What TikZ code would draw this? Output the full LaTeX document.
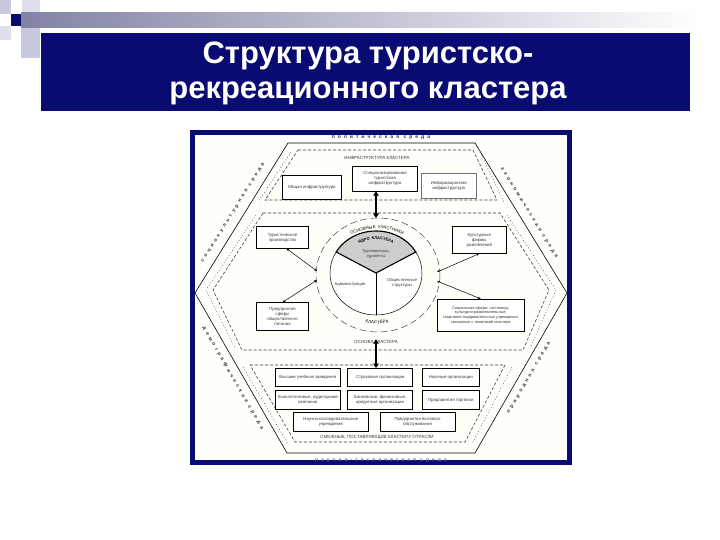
\documentclass[tikz,border=0pt]{standalone}
\usepackage{fontspec}
\setmainfont{Liberation Sans}
\newfontfamily\spacedfont[LetterSpace=60]{Liberation Sans}
\newfontfamily\arcfont[LetterSpace=25]{Liberation Sans}
\usetikzlibrary{arrows.meta,decorations.text}
\definecolor{navy}{RGB}{10,10,115}
\definecolor{ivory}{RGB}{255,255,250}
\definecolor{txtgray}{RGB}{55,55,55}
\definecolor{sectorgray}{RGB}{205,205,205}
\definecolor{deco1}{RGB}{200,200,222}
\definecolor{deco2}{RGB}{222,222,236}
\definecolor{barleft}{RGB}{130,130,165}
\definecolor{bottomtxt}{RGB}{95,95,175}
\begin{document}
\begin{tikzpicture}[x=1pt,y=-1pt,
  box/.style={draw=black,line width=0.6pt,fill=white,align=center,
    font=\fontsize{4.3}{5}\selectfont,text=txtgray,inner sep=1pt},
  lbl/.style={font=\fontsize{4.5}{5}\selectfont,text=txtgray,inner sep=0.5pt},
  edgetxt/.style={font=\spacedfont\bfseries\fontsize{5}{5}\selectfont,text=black!80,inner sep=0pt},
  bandline/.style={line width=0.55pt,dash pattern=on 3pt off 2pt,draw=black!80},
  dotline/.style={line width=0.55pt,dash pattern=on 0.8pt off 2.2pt,draw=black!70},
  dbl/.style={line width=0.5pt,{Stealth[length=3pt,width=2.4pt]}-{Stealth[length=3pt,width=2.4pt]}},
  fat/.style={line width=2.2pt,{Triangle[length=4.5pt,width=5.5pt]}-{Triangle[length=4.5pt,width=5.5pt]}}
]
\useasboundingbox (0,0) rectangle (720,540);
\fill[white] (0,0) rectangle (720,540);

% decorative squares and bar
\fill[deco1] (0,0) rectangle (11,14);
\fill[deco2] (22,0) rectangle (40,13);
\shade[left color=barleft,right color=white] (21,13) rectangle (700,28);
\fill[deco2] (0,26) rectangle (11,40);
\fill[deco1] (21,28) rectangle (40,58);
\fill[navy] (11,14) rectangle (21,26);

% title
\fill[navy] (41,33) rectangle (690,111);
\node (title) at (368,73) [text=white,align=center,
  font=\fontsize{31}{35}\selectfont\bfseries] {Структура туристско-\\рекреационного кластера};

% diagram frame
\fill[ivory] (190,130) rectangle (572,465);

% outer hexagon
\draw[line width=0.6pt] (288,143) -- (475,143) -- (567,293) -- (475,453) -- (287,453) -- (195,293) -- cycle;

% edge texts
\node[edgetxt] (etop) at (381,137.5) {политическая среда};
\node[edgetxt,rotate=58.2] (eul) at (233,213) {социокультурная среда};
\node[edgetxt,rotate=-58.2] (eur) at (529,213) {экономическая среда};
\node[edgetxt,rotate=-60] (ell) at (233,378) {демографическая среда};
\node[edgetxt,rotate=60] (elr) at (529,378) {природная среда};

% top band
\draw[bandline] (298,150) -- (473,150) -- (497,200) -- (265,200) -- cycle;
\draw[dotline] (291,152) -- (258,202);
\draw[dotline] (480,152) -- (504,202);
% middle band
\draw[bandline] (263,213) -- (500,213) -- (549,290) -- (523,350) -- (242,350) -- (213,290) -- cycle;
\draw[dotline] (256,215) -- (206,290) -- (235,348);
\draw[dotline] (507,215) -- (556,290) -- (530,348);
% bottom band
\draw[bandline] (250,365) -- (505,365) -- (465,442) -- (295,442) -- cycle;
\draw[dotline] (243,367) -- (288,444);
\draw[dotline] (512,367) -- (472,444);

% top band content
\node[lbl] (lblInfra) at (377,157.5) {ИНФРАСТРУКТУРА КЛАСТЕРА};
\node[box,minimum width=58.7pt,minimum height=24.3pt] (b1) at (311.7,187.2) {Общая инфраструктура};
\node[box,minimum width=64.6pt,minimum height=24.3pt] (b2) at (385,178.8) {Специализированная\\туристская\\инфраструктура};
\node[box,draw=black!55,minimum width=54.3pt,minimum height=25pt] (b3) at (448.8,185.8) {Информационная\\инфраструктура};

% middle band content
\node[box,minimum width=51.6pt,minimum height=21.6pt] (ml1) at (282.5,237.5) {Туристическое\\производство};
\node[box,minimum width=51.6pt,minimum height=27.3pt] (ml2) at (282.5,316.3) {Предприятия\\сферы\\общественного\\питания};
\node[box,minimum width=53.3pt,minimum height=26.6pt] (mr1) at (479.3,240) {Культурные\\фирмы\\развлечений};
\node[box,line width=1pt,minimum width=87pt,minimum height=31.7pt,font=\fontsize{3.9}{4.6}\selectfont] (mr2) at (480.8,315.2)
  {Социальная сфера: гостиницы,\\культурно-развлекательные,\\спортивно-оздоровительные учреждения,\\связанные с тематикой кластера};
\node[lbl] (lblOsnova) at (376,341.5) {ОСНОВА КЛАСТЕРА};

% circle
\draw[line width=0.5pt,dash pattern=on 7pt off 3.5pt,draw=black!75] (378,275) ellipse [x radius=62,y radius=57];
\draw[line width=0.5pt,fill=white] (376,273) ellipse [x radius=46,y radius=42];
\filldraw[fill=sectorgray,line width=1.1pt] (376,273) -- ++(-150:46 and 42)
  arc[start angle=-150,end angle=-30,x radius=46,y radius=42] -- cycle;
\draw[line width=0.5pt] (376,273) -- (376,315);
\node[align=center,font=\fontsize{4}{4.6}\selectfont,text=txtgray] (tur) at (376,254) {Туроператоры,\\турагенты};
\node[font=\fontsize{4.2}{5}\selectfont,text=txtgray] (adm) at (350,284) {Администрация};
\node[align=center,font=\fontsize{4.2}{4.8}\selectfont,text=txtgray] (obs) at (402,283) {Общественные\\структуры};
\path[decorate,decoration={text along path,text align=center,
  text={|\arcfont\bfseries\fontsize{4}{4}\selectfont|ЯДРО КЛАСТЕРА}}]
  (376,273) ++(-150:37 and 33.5) arc[start angle=-150,end angle=-30,x radius=37,y radius=33.5];
\path[decorate,decoration={text along path,text align=center,
  text={|\arcfont\fontsize{4.3}{4.3}\selectfont|ОСНОВНЫЕ УЧАСТНИКИ}}]
  (377,274) ++(-150:50 and 45.5) arc[start angle=-150,end angle=-30,x radius=50,y radius=45.5];
\path[decorate,decoration={text along path,text align=center,
  text={|\arcfont\fontsize{4.5}{4.5}\selectfont|КЛАСТЕРА}}]
  (377,274) ++(140:52 and 50) arc[start angle=140,end angle=40,x radius=52,y radius=50];

% ring points
\coordinate (ringT) at (376,218);
\coordinate (rL1) at (317,271);
\coordinate (rL2) at (317,280);
\coordinate (rR1) at (437,272);
\coordinate (rR2) at (437,281);

% connectors
\draw[dbl] (ml1.290) -- (rL1);
\draw[dbl] (rL2) -- (ml2.north);
\draw[dbl] (rR1) -- (mr1.south);
\draw[dbl] (rR2) -- (mr2.north);

% bottom band content
\node[box,minimum width=64.3pt,minimum height=18.4pt] (c11) at (307.8,377.5) {Высшие учебные заведения};
\node[box,minimum width=65pt,minimum height=18.4pt] (c12) at (380.2,377.5) {Страховые организации};
\node[box,minimum width=57pt,minimum height=18.4pt] (c13) at (450.8,377.5) {Научные организации};
\node[box,minimum width=64.3pt,minimum height=18.6pt] (c21) at (307.8,400) {Консалтинговые, аудиторские\\компании};
\node[box,minimum width=65pt,minimum height=18.6pt] (c22) at (380.2,400) {Банковские, финансовые,\\кредитные организации};
\node[box,minimum width=57pt,minimum height=18.6pt] (c23) at (450.8,400) {Предприятия торговли};
\node[box,minimum width=75pt,minimum height=19pt] (c31) at (330.8,422.2) {Научно-исследовательские\\учреждения};
\node[box,minimum width=75pt,minimum height=19pt] (c32) at (417.5,422.2) {Предприятия бытового\\обслуживания};
\node[lbl] (lblSmezh) at (377,437) {СМЕЖНЫЕ, ПОСТАВЛЯЮЩИЕ КЛАСТЕРУ ОТРАСЛИ};

% thick arrows
\draw[fat] (b2.south -| ringT) -- (ringT);
\draw[fat] (lblOsnova.north) -- (c12.north -| lblOsnova);

% frame border
\draw[navy,line width=5pt] (192.5,132.5) rectangle (569.5,462.5);
\node[edgetxt,text=bottomtxt] (ebot) at (381,461) {научно-техническая среда};
\end{tikzpicture}
\end{document}
